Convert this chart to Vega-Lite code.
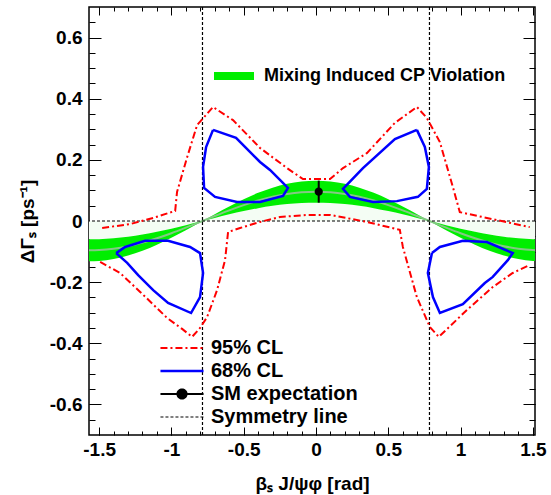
{
  "$schema": "https://vega.github.io/schema/vega-lite/v6.json",
  "width": 446,
  "height": 428,
  "autosize": {"type": "none"},
  "padding": {"left": 89, "top": 7, "right": 16, "bottom": 60},
  "background": "white",
  "config": {
    "view": {"stroke": "black", "strokeWidth": 1.5},
    "font": "Liberation Sans",
    "axis": {"grid": false, "domain": false, "tickColor": "black", "tickWidth": 1,
      "labelFont": "Liberation Sans", "labelFontWeight": "bold", "labelFontSize": 19, "labelColor": "black",
      "titleFont": "Liberation Sans", "titleFontWeight": "bold", "titleFontSize": 19, "titleColor": "black"},
    "legend": {"labelFont": "Liberation Sans", "labelFontWeight": "bold", "labelColor": "black", "padding": 0, "labelLimit": 0}
  },
  "datasets": {
    "band": [
      {"x": -1.57, "lo": -0.060, "hi": -0.132, "mid": -0.096},
      {"x": -1.5, "lo": -0.0594, "hi": -0.1307, "mid": -0.0950},
      {"x": -1.4, "lo": -0.0565, "hi": -0.1244, "mid": -0.0905},
      {"x": -1.3, "lo": -0.0514, "hi": -0.1131, "mid": -0.0823},
      {"x": -1.2, "lo": -0.0442, "hi": -0.0973, "mid": -0.0708},
      {"x": -1.1, "lo": -0.0353, "hi": -0.0777, "mid": -0.0565},
      {"x": -1.0, "lo": -0.0250, "hi": -0.0549, "mid": -0.0400},
      {"x": -0.9, "lo": -0.0136, "hi": -0.0300, "mid": -0.0218},
      {"x": -0.8, "lo": -0.0018, "hi": -0.0039, "mid": -0.0028},
      {"x": -0.785, "lo": 0, "hi": 0, "mid": 0},
      {"x": -0.7, "lo": 0.0102, "hi": 0.0224, "mid": 0.0163},
      {"x": -0.6, "lo": 0.0217, "hi": 0.0478, "mid": 0.0348},
      {"x": -0.5, "lo": 0.0324, "hi": 0.0713, "mid": 0.0519},
      {"x": -0.4, "lo": 0.0418, "hi": 0.0920, "mid": 0.0669},
      {"x": -0.3, "lo": 0.0495, "hi": 0.1089, "mid": 0.0792},
      {"x": -0.2, "lo": 0.0553, "hi": 0.1216, "mid": 0.0884},
      {"x": -0.1, "lo": 0.0588, "hi": 0.1294, "mid": 0.0941},
      {"x": 0.0, "lo": 0.0600, "hi": 0.1320, "mid": 0.0960},
      {"x": 0.1, "lo": 0.0588, "hi": 0.1294, "mid": 0.0941},
      {"x": 0.2, "lo": 0.0553, "hi": 0.1216, "mid": 0.0884},
      {"x": 0.3, "lo": 0.0495, "hi": 0.1089, "mid": 0.0792},
      {"x": 0.4, "lo": 0.0418, "hi": 0.0920, "mid": 0.0669},
      {"x": 0.5, "lo": 0.0324, "hi": 0.0713, "mid": 0.0519},
      {"x": 0.6, "lo": 0.0217, "hi": 0.0478, "mid": 0.0348},
      {"x": 0.7, "lo": 0.0102, "hi": 0.0224, "mid": 0.0163},
      {"x": 0.785, "lo": 0, "hi": 0, "mid": 0},
      {"x": 0.8, "lo": -0.0018, "hi": -0.0039, "mid": -0.0028},
      {"x": 0.9, "lo": -0.0136, "hi": -0.0300, "mid": -0.0218},
      {"x": 1.0, "lo": -0.0250, "hi": -0.0549, "mid": -0.0400},
      {"x": 1.1, "lo": -0.0353, "hi": -0.0777, "mid": -0.0565},
      {"x": 1.2, "lo": -0.0442, "hi": -0.0973, "mid": -0.0708},
      {"x": 1.3, "lo": -0.0514, "hi": -0.1131, "mid": -0.0823},
      {"x": 1.4, "lo": -0.0565, "hi": -0.1244, "mid": -0.0905},
      {"x": 1.5, "lo": -0.0594, "hi": -0.1307, "mid": -0.0950},
      {"x": 1.57, "lo": -0.060, "hi": -0.132, "mid": -0.096}
    ],
    "red": [
      {"x": -1.479, "y": -0.023, "part": "upper", "series": "95% CL"},
      {"x": -1.285, "y": -0.010, "part": "upper", "series": "95% CL"},
      {"x": -1.126, "y": 0.010, "part": "upper", "series": "95% CL"},
      {"x": -0.974, "y": 0.033, "part": "upper", "series": "95% CL"},
      {"x": -0.961, "y": 0.095, "part": "upper", "series": "95% CL"},
      {"x": -0.891, "y": 0.209, "part": "upper", "series": "95% CL"},
      {"x": -0.822, "y": 0.314, "part": "upper", "series": "95% CL"},
      {"x": -0.712, "y": 0.373, "part": "upper", "series": "95% CL"},
      {"x": -0.574, "y": 0.330, "part": "upper", "series": "95% CL"},
      {"x": -0.387, "y": 0.239, "part": "upper", "series": "95% CL"},
      {"x": -0.200, "y": 0.173, "part": "upper", "series": "95% CL"},
      {"x": -0.090, "y": 0.137, "part": "upper", "series": "95% CL"},
      {"x": 0.097, "y": 0.137, "part": "upper", "series": "95% CL"},
      {"x": 0.187, "y": 0.173, "part": "upper", "series": "95% CL"},
      {"x": 0.352, "y": 0.222, "part": "upper", "series": "95% CL"},
      {"x": 0.546, "y": 0.321, "part": "upper", "series": "95% CL"},
      {"x": 0.698, "y": 0.373, "part": "upper", "series": "95% CL"},
      {"x": 0.767, "y": 0.337, "part": "upper", "series": "95% CL"},
      {"x": 0.857, "y": 0.258, "part": "upper", "series": "95% CL"},
      {"x": 0.947, "y": 0.111, "part": "upper", "series": "95% CL"},
      {"x": 0.995, "y": 0.029, "part": "upper", "series": "95% CL"},
      {"x": 1.182, "y": 0.010, "part": "upper", "series": "95% CL"},
      {"x": 1.479, "y": -0.020, "part": "upper", "series": "95% CL"},
      {"x": -1.493, "y": -0.134, "part": "lower", "series": "95% CL"},
      {"x": -1.355, "y": -0.170, "part": "lower", "series": "95% CL"},
      {"x": -1.216, "y": -0.232, "part": "lower", "series": "95% CL"},
      {"x": -1.030, "y": -0.317, "part": "lower", "series": "95% CL"},
      {"x": -0.926, "y": -0.353, "part": "lower", "series": "95% CL"},
      {"x": -0.857, "y": -0.379, "part": "lower", "series": "95% CL"},
      {"x": -0.802, "y": -0.350, "part": "lower", "series": "95% CL"},
      {"x": -0.753, "y": -0.314, "part": "lower", "series": "95% CL"},
      {"x": -0.684, "y": -0.226, "part": "lower", "series": "95% CL"},
      {"x": -0.629, "y": -0.128, "part": "lower", "series": "95% CL"},
      {"x": -0.608, "y": -0.036, "part": "lower", "series": "95% CL"},
      {"x": -0.525, "y": -0.023, "part": "lower", "series": "95% CL"},
      {"x": -0.387, "y": -0.003, "part": "lower", "series": "95% CL"},
      {"x": -0.249, "y": 0.013, "part": "lower", "series": "95% CL"},
      {"x": -0.062, "y": 0.020, "part": "lower", "series": "95% CL"},
      {"x": 0.097, "y": 0.020, "part": "lower", "series": "95% CL"},
      {"x": 0.352, "y": -0.003, "part": "lower", "series": "95% CL"},
      {"x": 0.580, "y": -0.029, "part": "lower", "series": "95% CL"},
      {"x": 0.601, "y": -0.085, "part": "lower", "series": "95% CL"},
      {"x": 0.698, "y": -0.249, "part": "lower", "series": "95% CL"},
      {"x": 0.788, "y": -0.347, "part": "lower", "series": "95% CL"},
      {"x": 0.850, "y": -0.379, "part": "lower", "series": "95% CL"},
      {"x": 1.044, "y": -0.291, "part": "lower", "series": "95% CL"},
      {"x": 1.223, "y": -0.216, "part": "lower", "series": "95% CL"},
      {"x": 1.361, "y": -0.170, "part": "lower", "series": "95% CL"},
      {"x": 1.479, "y": -0.144, "part": "lower", "series": "95% CL"}
    ],
    "blue": [
      {"c": "UL", "i": 0, "x": -0.712, "y": 0.298, "series": "68% CL"},
      {"c": "UL", "i": 1, "x": -0.553, "y": 0.272, "series": "68% CL"},
      {"c": "UL", "i": 2, "x": -0.387, "y": 0.193, "series": "68% CL"},
      {"c": "UL", "i": 3, "x": -0.318, "y": 0.167, "series": "68% CL"},
      {"c": "UL", "i": 4, "x": -0.194, "y": 0.108, "series": "68% CL"},
      {"c": "UL", "i": 5, "x": -0.228, "y": 0.082, "series": "68% CL"},
      {"c": "UL", "i": 6, "x": -0.387, "y": 0.062, "series": "68% CL"},
      {"c": "UL", "i": 7, "x": -0.546, "y": 0.062, "series": "68% CL"},
      {"c": "UL", "i": 8, "x": -0.698, "y": 0.079, "series": "68% CL"},
      {"c": "UL", "i": 9, "x": -0.774, "y": 0.108, "series": "68% CL"},
      {"c": "UL", "i": 10, "x": -0.781, "y": 0.177, "series": "68% CL"},
      {"c": "UL", "i": 11, "x": -0.760, "y": 0.242, "series": "68% CL"},
      {"c": "UL", "i": 12, "x": -0.712, "y": 0.298, "series": "68% CL"},
      {"c": "UR", "i": 0, "x": 0.698, "y": 0.298, "series": "68% CL"},
      {"c": "UR", "i": 1, "x": 0.753, "y": 0.242, "series": "68% CL"},
      {"c": "UR", "i": 2, "x": 0.781, "y": 0.177, "series": "68% CL"},
      {"c": "UR", "i": 3, "x": 0.767, "y": 0.105, "series": "68% CL"},
      {"c": "UR", "i": 4, "x": 0.705, "y": 0.079, "series": "68% CL"},
      {"c": "UR", "i": 5, "x": 0.560, "y": 0.065, "series": "68% CL"},
      {"c": "UR", "i": 6, "x": 0.394, "y": 0.062, "series": "68% CL"},
      {"c": "UR", "i": 7, "x": 0.235, "y": 0.079, "series": "68% CL"},
      {"c": "UR", "i": 8, "x": 0.187, "y": 0.105, "series": "68% CL"},
      {"c": "UR", "i": 9, "x": 0.325, "y": 0.173, "series": "68% CL"},
      {"c": "UR", "i": 10, "x": 0.546, "y": 0.268, "series": "68% CL"},
      {"c": "UR", "i": 11, "x": 0.698, "y": 0.298, "series": "68% CL"},
      {"c": "LL", "i": 0, "x": -1.382, "y": -0.105, "series": "68% CL"},
      {"c": "LL", "i": 1, "x": -1.320, "y": -0.085, "series": "68% CL"},
      {"c": "LL", "i": 2, "x": -1.182, "y": -0.065, "series": "68% CL"},
      {"c": "LL", "i": 3, "x": -1.023, "y": -0.065, "series": "68% CL"},
      {"c": "LL", "i": 4, "x": -0.871, "y": -0.085, "series": "68% CL"},
      {"c": "LL", "i": 5, "x": -0.802, "y": -0.105, "series": "68% CL"},
      {"c": "LL", "i": 6, "x": -0.781, "y": -0.170, "series": "68% CL"},
      {"c": "LL", "i": 7, "x": -0.802, "y": -0.249, "series": "68% CL"},
      {"c": "LL", "i": 8, "x": -0.864, "y": -0.301, "series": "68% CL"},
      {"c": "LL", "i": 9, "x": -1.023, "y": -0.268, "series": "68% CL"},
      {"c": "LL", "i": 10, "x": -1.126, "y": -0.226, "series": "68% CL"},
      {"c": "LL", "i": 11, "x": -1.230, "y": -0.177, "series": "68% CL"},
      {"c": "LL", "i": 12, "x": -1.306, "y": -0.137, "series": "68% CL"},
      {"c": "LL", "i": 13, "x": -1.382, "y": -0.105, "series": "68% CL"},
      {"c": "LR", "i": 0, "x": 0.802, "y": -0.105, "series": "68% CL"},
      {"c": "LR", "i": 1, "x": 0.857, "y": -0.085, "series": "68% CL"},
      {"c": "LR", "i": 2, "x": 1.016, "y": -0.065, "series": "68% CL"},
      {"c": "LR", "i": 3, "x": 1.182, "y": -0.069, "series": "68% CL"},
      {"c": "LR", "i": 4, "x": 1.361, "y": -0.105, "series": "68% CL"},
      {"c": "LR", "i": 5, "x": 1.327, "y": -0.128, "series": "68% CL"},
      {"c": "LR", "i": 6, "x": 1.223, "y": -0.183, "series": "68% CL"},
      {"c": "LR", "i": 7, "x": 1.168, "y": -0.203, "series": "68% CL"},
      {"c": "LR", "i": 8, "x": 1.016, "y": -0.272, "series": "68% CL"},
      {"c": "LR", "i": 9, "x": 0.857, "y": -0.301, "series": "68% CL"},
      {"c": "LR", "i": 10, "x": 0.809, "y": -0.249, "series": "68% CL"},
      {"c": "LR", "i": 11, "x": 0.774, "y": -0.170, "series": "68% CL"},
      {"c": "LR", "i": 12, "x": 0.802, "y": -0.105, "series": "68% CL"}
    ],
    "symv": [
      {"x": -0.785, "series": "Symmetry line"},
      {"x": 0.785, "series": "Symmetry line"}
    ],
    "symh": [
      {"y": 0, "series": "Symmetry line"}
    ],
    "sm": [
      {"x": 0.019, "y": 0.096, "lo": 0.060, "hi": 0.132, "series": "SM expectation"}
    ]
  },
  "resolve": {"axis": {"x": "independent", "y": "independent"}},
  "layer": [
    {
      "data": {"name": "band"},
      "mark": {"type": "area", "color": "#f4fdf4", "interpolate": "monotone", "clip": true},
      "encoding": {
        "x": {"field": "x", "type": "quantitative", "scale": {"domain": [-1.57, 1.515], "nice": false, "zero": false},
          "axis": {"orient": "bottom", "values": [-1.5, -1, -0.5, 0, 0.5, 1, 1.5], "tickSize": -8, "labelPadding": 13,
            "labelExpr": "'' + datum.value", "title": "βₛ J/ψφ [rad]", "titlePadding": 15}},
        "y": {"field": "lo", "type": "quantitative", "scale": {"domain": [-0.7, 0.7], "nice": false, "zero": false},
          "axis": {"orient": "left", "values": [-0.6, -0.4, -0.2, 0, 0.2, 0.4, 0.6], "tickSize": -12, "labelPadding": 19,
            "labelExpr": "'' + datum.value", "title": "ΔΓₛ [ps⁻¹]", "titlePadding": 12}},
        "y2": {"datum": 0}
      }
    },
    {
      "data": {"name": "band"},
      "mark": {"type": "area", "interpolate": "monotone", "clip": true},
      "encoding": {
        "x": {"field": "x", "type": "quantitative", "scale": {"domain": [-1.57, 1.515], "nice": false, "zero": false},
          "axis": {"orient": "bottom", "values": [-1.5,-1.4,-1.3,-1.2,-1.1,-1,-0.9,-0.8,-0.7,-0.6,-0.5,-0.4,-0.3,-0.2,-0.1,0,0.1,0.2,0.3,0.4,0.5,0.6,0.7,0.8,0.9,1,1.1,1.2,1.3,1.4,1.5], "tickSize": -4, "labels": false, "title": null}},
        "y": {"field": "lo", "type": "quantitative", "scale": {"domain": [-0.7, 0.7], "nice": false, "zero": false},
          "axis": {"orient": "left", "values": [-0.65,-0.6,-0.55,-0.5,-0.45,-0.4,-0.35,-0.3,-0.25,-0.2,-0.15,-0.1,-0.05,0,0.05,0.1,0.15,0.2,0.25,0.3,0.35,0.4,0.45,0.5,0.55,0.6,0.65], "tickSize": -6, "labels": false, "title": null}},
        "y2": {"field": "hi"},
        "fill": {"datum": "Mixing Induced CP Violation", "type": "nominal",
          "scale": {"domain": ["Mixing Induced CP Violation"], "range": ["#00ee00"]},
          "legend": {"title": null, "orient": "none", "legendX": 121, "legendY": 60,
            "symbolType": "M-4,-0.8H4V0.8H-4Z", "symbolSize": 100, "symbolStrokeWidth": 0,
            "symbolOffset": 15, "labelOffset": 21, "labelFontSize": 18, "labelLimit": 0}}
      }
    },
    {
      "data": {"name": "band"},
      "mark": {"type": "line", "color": "#84c884", "strokeWidth": 2, "interpolate": "monotone", "clip": true},
      "encoding": {
        "x": {"field": "x", "type": "quantitative", "scale": {"domain": [-1.57, 1.515], "nice": false, "zero": false},
          "axis": {"orient": "top", "values": [-1.5, -1, -0.5, 0, 0.5, 1, 1.5], "tickSize": -8, "labels": false, "title": null}},
        "y": {"field": "mid", "type": "quantitative", "scale": {"domain": [-0.7, 0.7], "nice": false, "zero": false},
          "axis": {"orient": "right", "values": [-0.6, -0.4, -0.2, 0, 0.2, 0.4, 0.6], "tickSize": -12, "labels": false, "title": null}}
      }
    },
    {
      "data": {"name": "symv"},
      "mark": {"type": "rule", "strokeDash": [3, 2], "strokeWidth": 1.2},
      "encoding": {
        "x": {"field": "x", "type": "quantitative", "scale": {"domain": [-1.57, 1.515], "nice": false, "zero": false}, "axis": null},
        "stroke": {"field": "series", "type": "nominal"}
      }
    },
    {
      "data": {"name": "symh"},
      "mark": {"type": "rule", "strokeDash": [3, 2], "strokeWidth": 1.2},
      "encoding": {
        "y": {"field": "y", "type": "quantitative", "scale": {"domain": [-0.7, 0.7], "nice": false, "zero": false}, "axis": null},
        "stroke": {"field": "series", "type": "nominal"}
      }
    },
    {
      "data": {"name": "red"},
      "mark": {"type": "line", "strokeDash": [7, 3, 2, 3], "strokeWidth": 2, "clip": true},
      "encoding": {
        "x": {"field": "x", "type": "quantitative", "scale": {"domain": [-1.57, 1.515], "nice": false, "zero": false},
          "axis": {"orient": "top", "values": [-1.5,-1.4,-1.3,-1.2,-1.1,-1,-0.9,-0.8,-0.7,-0.6,-0.5,-0.4,-0.3,-0.2,-0.1,0,0.1,0.2,0.3,0.4,0.5,0.6,0.7,0.8,0.9,1,1.1,1.2,1.3,1.4,1.5], "tickSize": -4, "labels": false, "title": null}},
        "y": {"field": "y", "type": "quantitative", "scale": {"domain": [-0.7, 0.7], "nice": false, "zero": false},
          "axis": {"orient": "right", "values": [-0.65,-0.6,-0.55,-0.5,-0.45,-0.4,-0.35,-0.3,-0.25,-0.2,-0.15,-0.1,-0.05,0,0.05,0.1,0.15,0.2,0.25,0.3,0.35,0.4,0.45,0.5,0.55,0.6,0.65], "tickSize": -6, "labels": false, "title": null}},
        "detail": {"field": "part"},
        "stroke": {"field": "series", "type": "nominal",
          "scale": {"domain": ["95% CL", "68% CL", "SM expectation", "Symmetry line"], "range": ["#ff0000", "#0000ff", "#000000", "#000000"]},
          "legend": {"title": null, "orient": "none", "legendX": 68, "legendY": 331,
            "symbolType": "M-4,0H4", "symbolSize": 116, "symbolOffset": 15, "labelOffset": 19,
            "labelFontSize": 20, "rowPadding": 3, "labelLimit": 0,
            "encode": {"symbols": {"update": {
              "shape": {"signal": "datum.value === 'SM expectation' ? 'M-4,0H4M-0.85,0A0.85,0.85 0 1,0 0.85,0A0.85,0.85 0 1,0 -0.85,0Z' : 'M-4,0H4'"},
              "fill": {"signal": "datum.value === 'SM expectation' ? 'black' : 'transparent'"},
              "strokeDash": {"signal": "datum.value === '95% CL' ? [7,3,2,3] : (datum.value === 'Symmetry line' ? [3,2] : [1,0])"},
              "strokeWidth": {"signal": "datum.value === 'Symmetry line' ? 1.2 : (datum.value === '68% CL' ? 2.5 : 2)"},
              "opacity": {"value": 1}
            }}}}}
      }
    },
    {
      "data": {"name": "blue"},
      "mark": {"type": "line", "strokeWidth": 2.5, "clip": true},
      "encoding": {
        "x": {"field": "x", "type": "quantitative", "scale": {"domain": [-1.57, 1.515], "nice": false, "zero": false}, "axis": null},
        "y": {"field": "y", "type": "quantitative", "scale": {"domain": [-0.7, 0.7], "nice": false, "zero": false}, "axis": null},
        "detail": {"field": "c"},
        "order": {"field": "i", "type": "quantitative"},
        "stroke": {"field": "series", "type": "nominal"}
      }
    },
    {
      "data": {"name": "sm"},
      "mark": {"type": "rule", "strokeWidth": 2},
      "encoding": {
        "x": {"field": "x", "type": "quantitative", "scale": {"domain": [-1.57, 1.515], "nice": false, "zero": false}, "axis": null},
        "y": {"field": "lo", "type": "quantitative", "scale": {"domain": [-0.7, 0.7], "nice": false, "zero": false}, "axis": null},
        "y2": {"field": "hi"},
        "stroke": {"field": "series", "type": "nominal"}
      }
    },
    {
      "data": {"name": "sm"},
      "mark": {"type": "point", "filled": true, "color": "black", "size": 68, "opacity": 1},
      "encoding": {
        "x": {"field": "x", "type": "quantitative", "scale": {"domain": [-1.57, 1.515], "nice": false, "zero": false}, "axis": null},
        "y": {"field": "y", "type": "quantitative", "scale": {"domain": [-0.7, 0.7], "nice": false, "zero": false}, "axis": null}
      }
    }
  ]
}
